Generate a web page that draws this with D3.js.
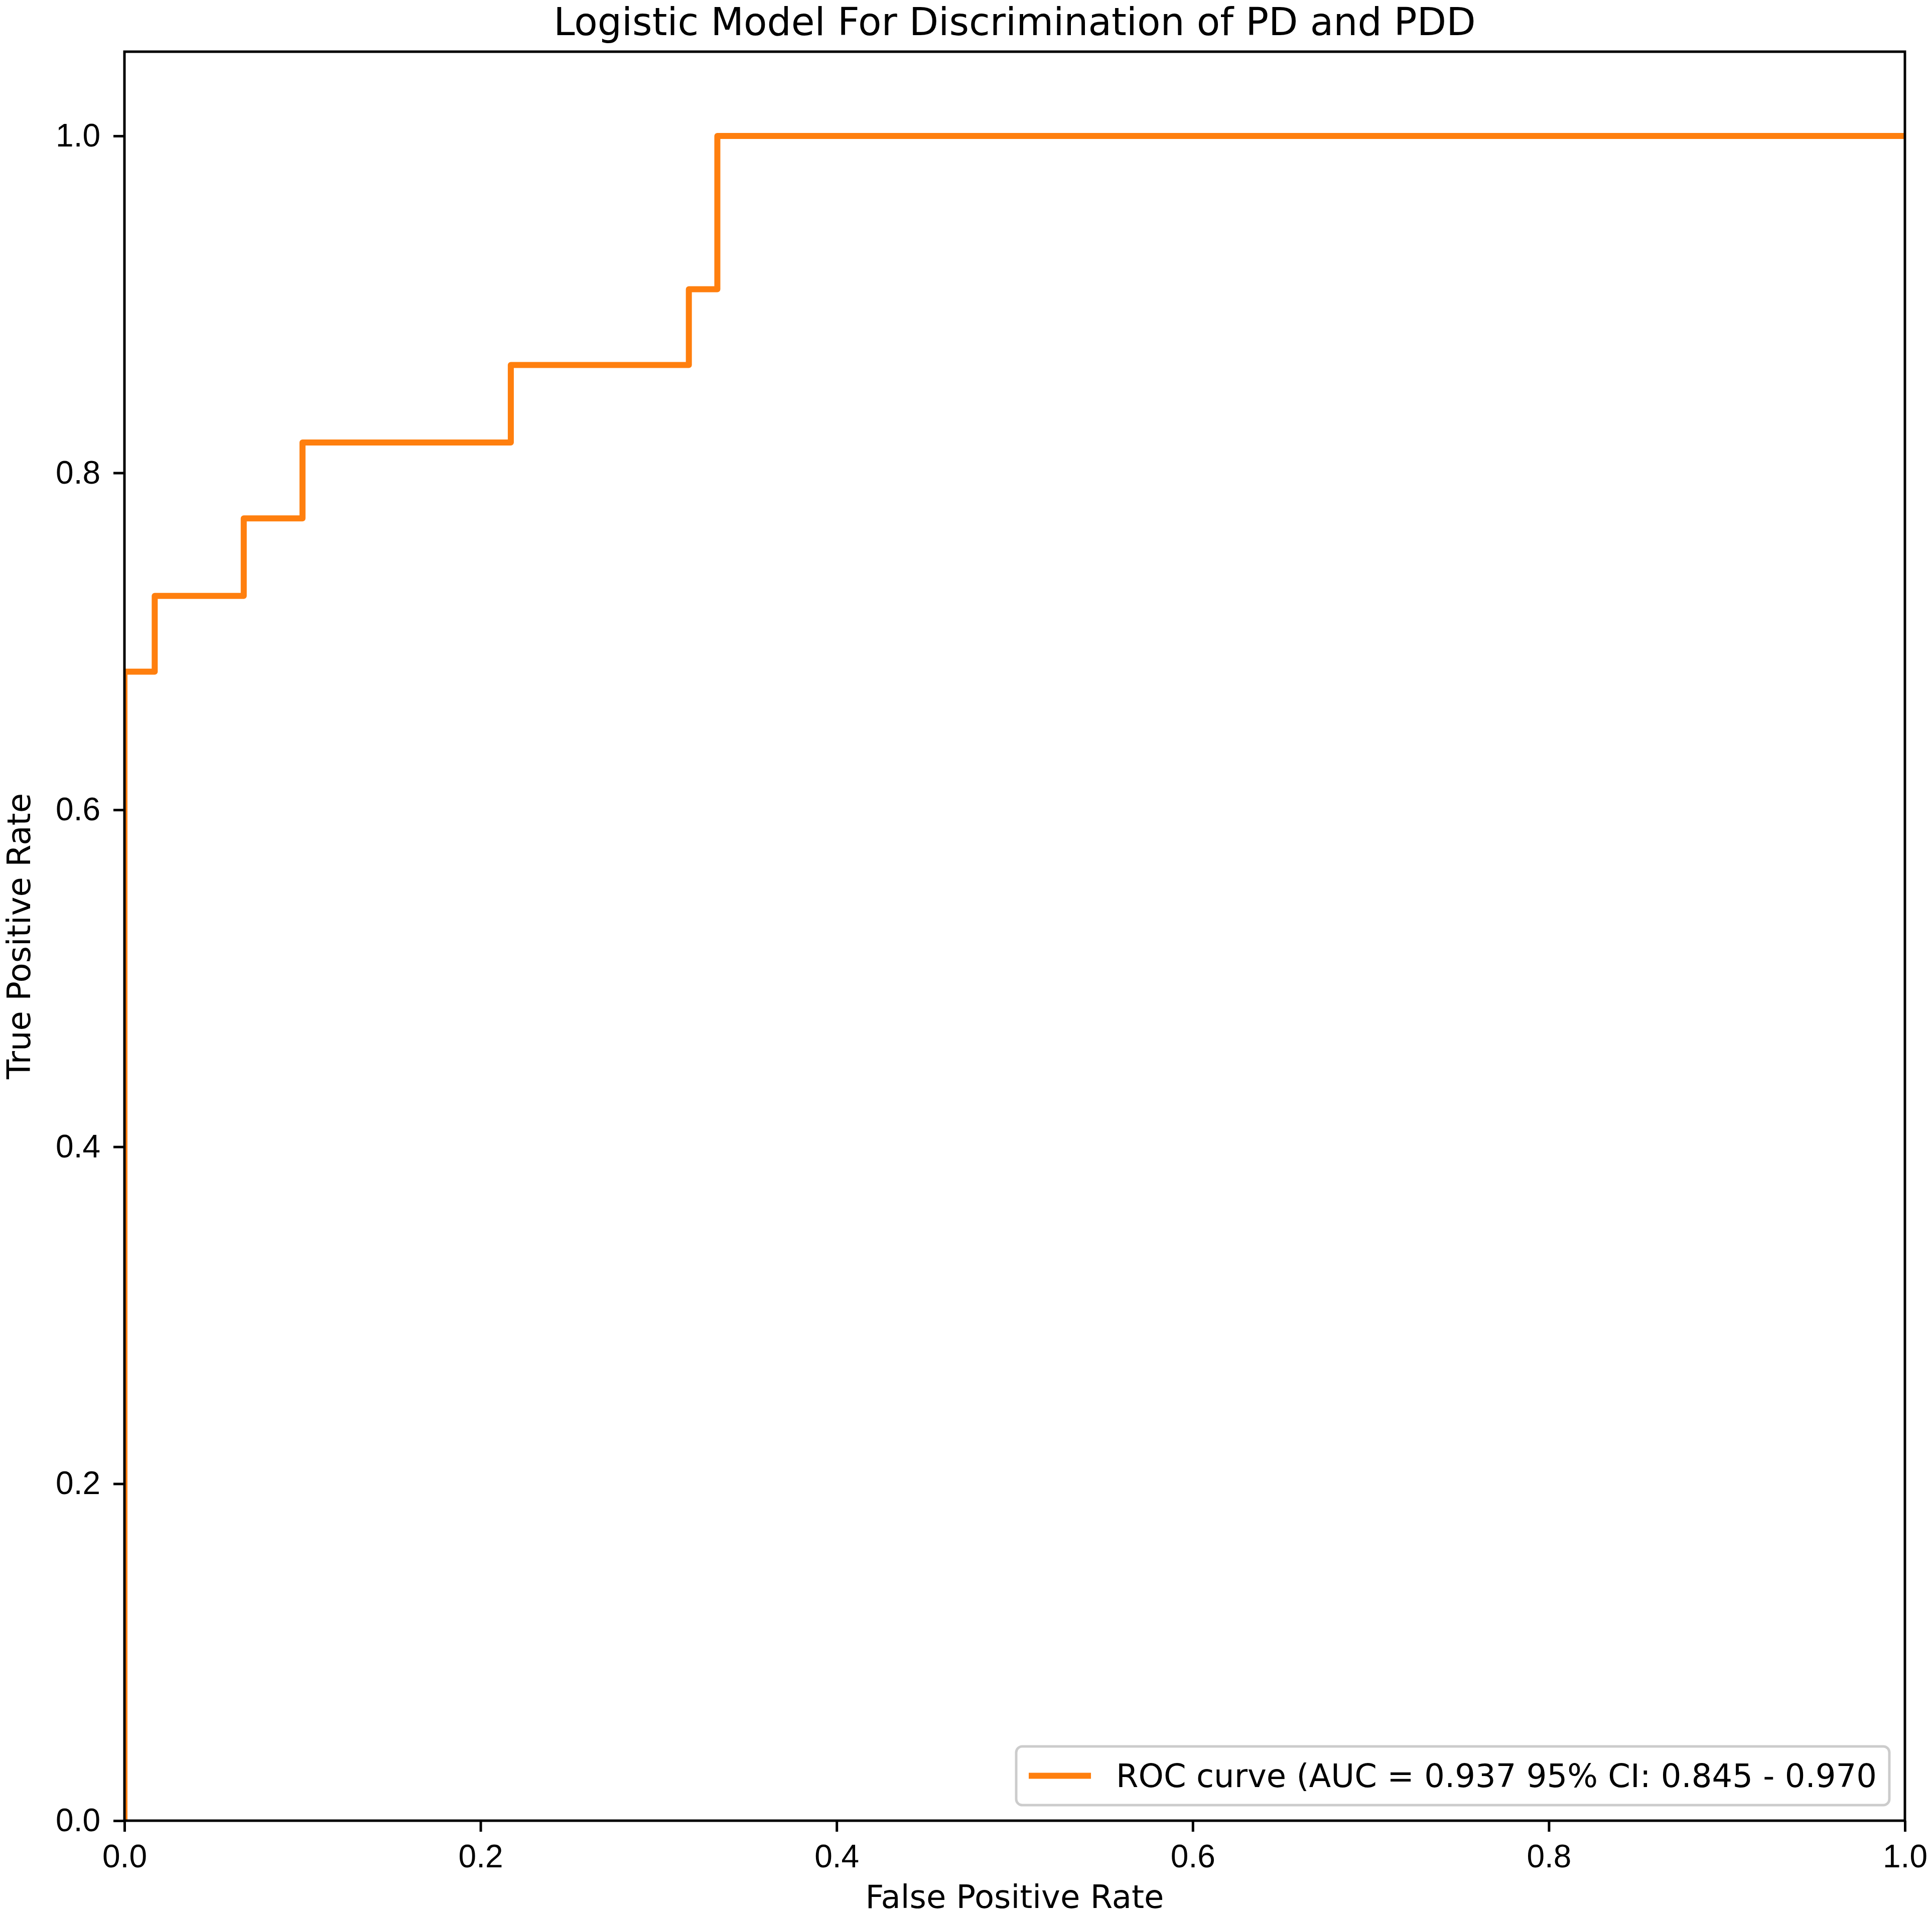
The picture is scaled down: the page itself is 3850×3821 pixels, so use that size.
<!DOCTYPE html>
<html>
<head>
<meta charset="utf-8">
<script src="https://d3js.org/d3.v7.min.js"></script>
<style>
  body { margin: 0; background: #fff; }
  svg { font-family: "DejaVu Sans", sans-serif; }
  .axis text { font-size: 64px; fill: #000; }
  .axis line { stroke: #000; stroke-width: 5; }
  .axis path.domain { display: none; }
</style>
</head>
<body>
<svg id="chart" width="3850" height="3821"></svg>
<script>
// ROC points
const fpr = [0.0, 0.0, 0.017, 0.017, 0.067, 0.067, 0.100, 0.100, 0.217, 0.217, 0.317, 0.317, 0.333, 0.333, 1.0];
const tpr = [0.0, 0.682, 0.682, 0.727, 0.727, 0.773, 0.773, 0.818, 0.818, 0.864, 0.864, 0.909, 0.909, 1.0, 1.0];
const xticks = [0.0, 0.2, 0.4, 0.6, 0.8, 1.0];
const yticks = [0.0, 0.2, 0.4, 0.6, 0.8, 1.0];
const title = 'Logistic Model For Discrimination of PD and PDD';
const xlabel = 'False Positive Rate';
const ylabel = 'True Positive Rate';
const legendLabel = 'ROC curve (AUC = 0.937 95% CI: 0.845 - 0.970';

const config = {
    left: 248, right: 3796, top: 103, bottom: 3629,
    color: '#ff7f0e',
    fs: 64,
}

const svg = d3.select('svg#chart');

const x = d3.scaleLinear().domain([0, 1]).range([config.left, config.right]);
const y = d3.scaleLinear().domain([0, 1.05]).range([config.bottom, config.top]);

svg.append('defs').append('clipPath').attr('id', 'plotclip')
    .append('rect')
    .attr('x', config.left).attr('y', config.top)
    .attr('width', config.right - config.left)
    .attr('height', config.bottom - config.top);

// axes
svg.append('g').classed('axis', true)
    .attr('transform', 'translate(0,' + config.bottom + ')')
    .call(d3.axisBottom(x).tickValues(xticks).tickFormat(d3.format('.1f'))
        .tickSize(22).tickPadding(26));

svg.append('g').classed('axis', true)
    .attr('transform', 'translate(' + config.left + ',0)')
    .call(d3.axisLeft(y).tickValues(yticks).tickFormat(d3.format('.1f'))
        .tickSize(22).tickPadding(26));

// roc curve
const points = fpr.map((d, i) => [d, tpr[i]]);
svg.append('path')
    .datum(points)
    .attr('clip-path', 'url(#plotclip)')
    .attr('fill', 'none')
    .attr('stroke', config.color)
    .attr('stroke-width', 12)
    .attr('stroke-linejoin', 'round')
    .attr('d', d3.line().x(d => x(d[0])).y(d => y(d[1])));

// spines on top
svg.append('rect')
    .attr('x', config.left).attr('y', config.top)
    .attr('width', config.right - config.left)
    .attr('height', config.bottom - config.top)
    .attr('fill', 'none')
    .attr('stroke', '#000')
    .attr('stroke-width', 5);

// title and labels
svg.append('text')
    .attr('x', (config.left + config.right) / 2).attr('y', 70)
    .attr('text-anchor', 'middle')
    .style('font-size', '76px')
    .text(title);

svg.append('text')
    .attr('x', (config.left + config.right) / 2).attr('y', 3803)
    .attr('text-anchor', 'middle')
    .style('font-size', config.fs + 'px')
    .text(xlabel);

svg.append('text')
    .attr('transform', 'translate(60,' + (config.top + config.bottom) / 2 + ') rotate(-90)')
    .attr('text-anchor', 'middle')
    .style('font-size', config.fs + 'px')
    .text(ylabel);

// legend, lower right
const legend = svg.append('g');
const box = legend.append('rect')
    .attr('fill', 'white').attr('fill-opacity', 0.8)
    .attr('stroke', '#cccccc').attr('stroke-width', 5)
    .attr('rx', 12).attr('ry', 12);
const ltext = legend.append('text')
    .style('font-size', config.fs + 'px')
    .text(legendLabel);

let textw = ltext.node().getComputedTextLength();
let boxRight = x(1) - 31;
let boxBottom = y(0) - 31;
let boxH = 117;
let boxW = 25 + 124 + 50 + textw + 25;
let boxLeft = boxRight - boxW;
let midY = boxBottom - boxH / 2;

box.attr('x', boxLeft).attr('y', boxBottom - boxH).attr('width', boxW).attr('height', boxH);
legend.append('line')
    .attr('x1', boxLeft + 25).attr('x2', boxLeft + 25 + 124)
    .attr('y1', midY).attr('y2', midY)
    .attr('stroke', config.color).attr('stroke-width', 12);
ltext.attr('x', boxLeft + 25 + 124 + 50).attr('y', midY + 22);
</script>
</body>
</html>
